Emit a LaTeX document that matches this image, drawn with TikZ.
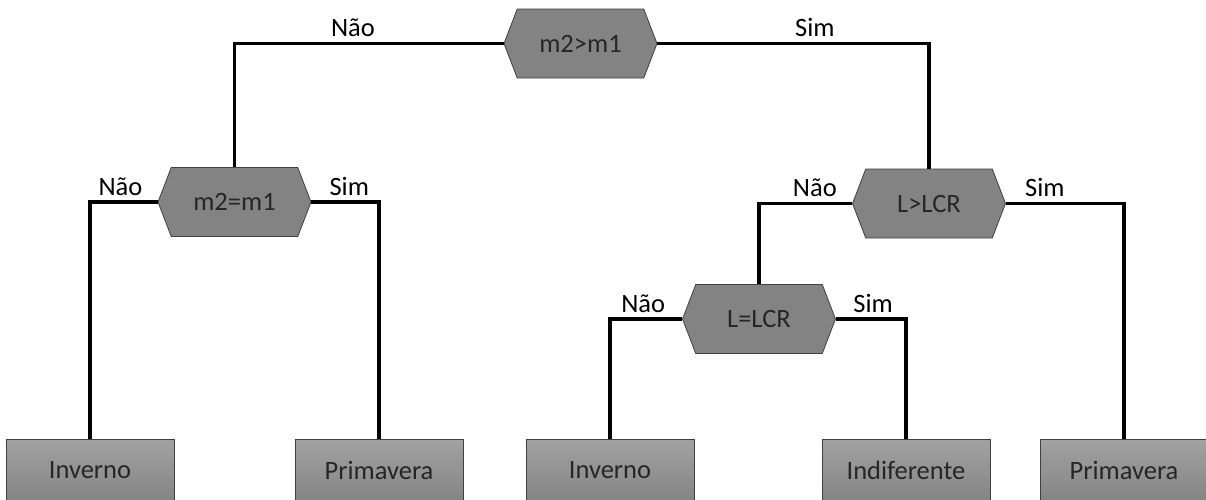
\documentclass[tikz,border=0pt]{standalone}
\usepackage{fontspec}
\setmainfont{Carlito}
\usetikzlibrary{shapes.symbols}
\definecolor{hexfill}{HTML}{838383}
\definecolor{leaftop}{HTML}{A2A2A2}
\definecolor{leafbot}{HTML}{848484}
\definecolor{inktext}{HTML}{262626}
\begin{document}
\begin{tikzpicture}[x=1pt, y=-1pt,
    font=\fontsize{26.5}{31}\selectfont,
    test/.style={signal, signal to=west and east, signal pointer angle=138, draw=black!75, line width=0.8pt, fill=hexfill, text=inktext, minimum width=153pt, minimum height=69pt, inner sep=0pt},
    leaf/.style={rectangle, draw=black!75, line width=0.8pt, top color=leaftop, bottom color=leafbot, text=inktext, minimum width=168pt, minimum height=62pt},
    link/.style={line width=3.3pt},
    lbl/.style={above=5pt, inner sep=0pt}]
        \useasboundingbox (0,0) rectangle (1206,499);

        \node[test] (root) at (580.5,43.5) {m2>m1};
        \node[test] (eq) at (234.5,202) {m2=m1};
        \node[test] (gt) at (929,203.5) {L>LCR};
        \node[test] (geq) at (759,319) {L=LCR};

        \node[leaf] (inv1) at (90,470) {Inverno};
        \node[leaf] (prim1) at (379,470) {Primavera};
        \node[leaf] (inv2) at (610,470) {Inverno};
        \node[leaf] (ind) at (906,470) {Indiferente};
        \node[leaf] (prim2) at (1124,470) {Primavera};

        \draw[link] (root.west) -| node[lbl, pos=.28] {Não} (eq.north);
        \draw[link] (root.east) -| node[lbl, pos=.29] {Sim} (gt.north);
        \draw[link] (eq.west) -| node[lbl, pos=.275] {Não} (inv1.north);
        \draw[link] (eq.east) -| node[lbl, pos=.28] {Sim} (prim1.north);
        \draw[link] (gt.west) -| node[lbl, pos=.2] {Não} (geq.north);
        \draw[link] (gt.east) -| node[lbl, pos=.165] {Sim} (prim2.north);
        \draw[link] (geq.west) -| node[lbl, pos=.27] {Não} (inv2.north);
        \draw[link] (geq.east) -| node[lbl, pos=.265] {Sim} (ind.north);
      \end{tikzpicture}
\end{document}
